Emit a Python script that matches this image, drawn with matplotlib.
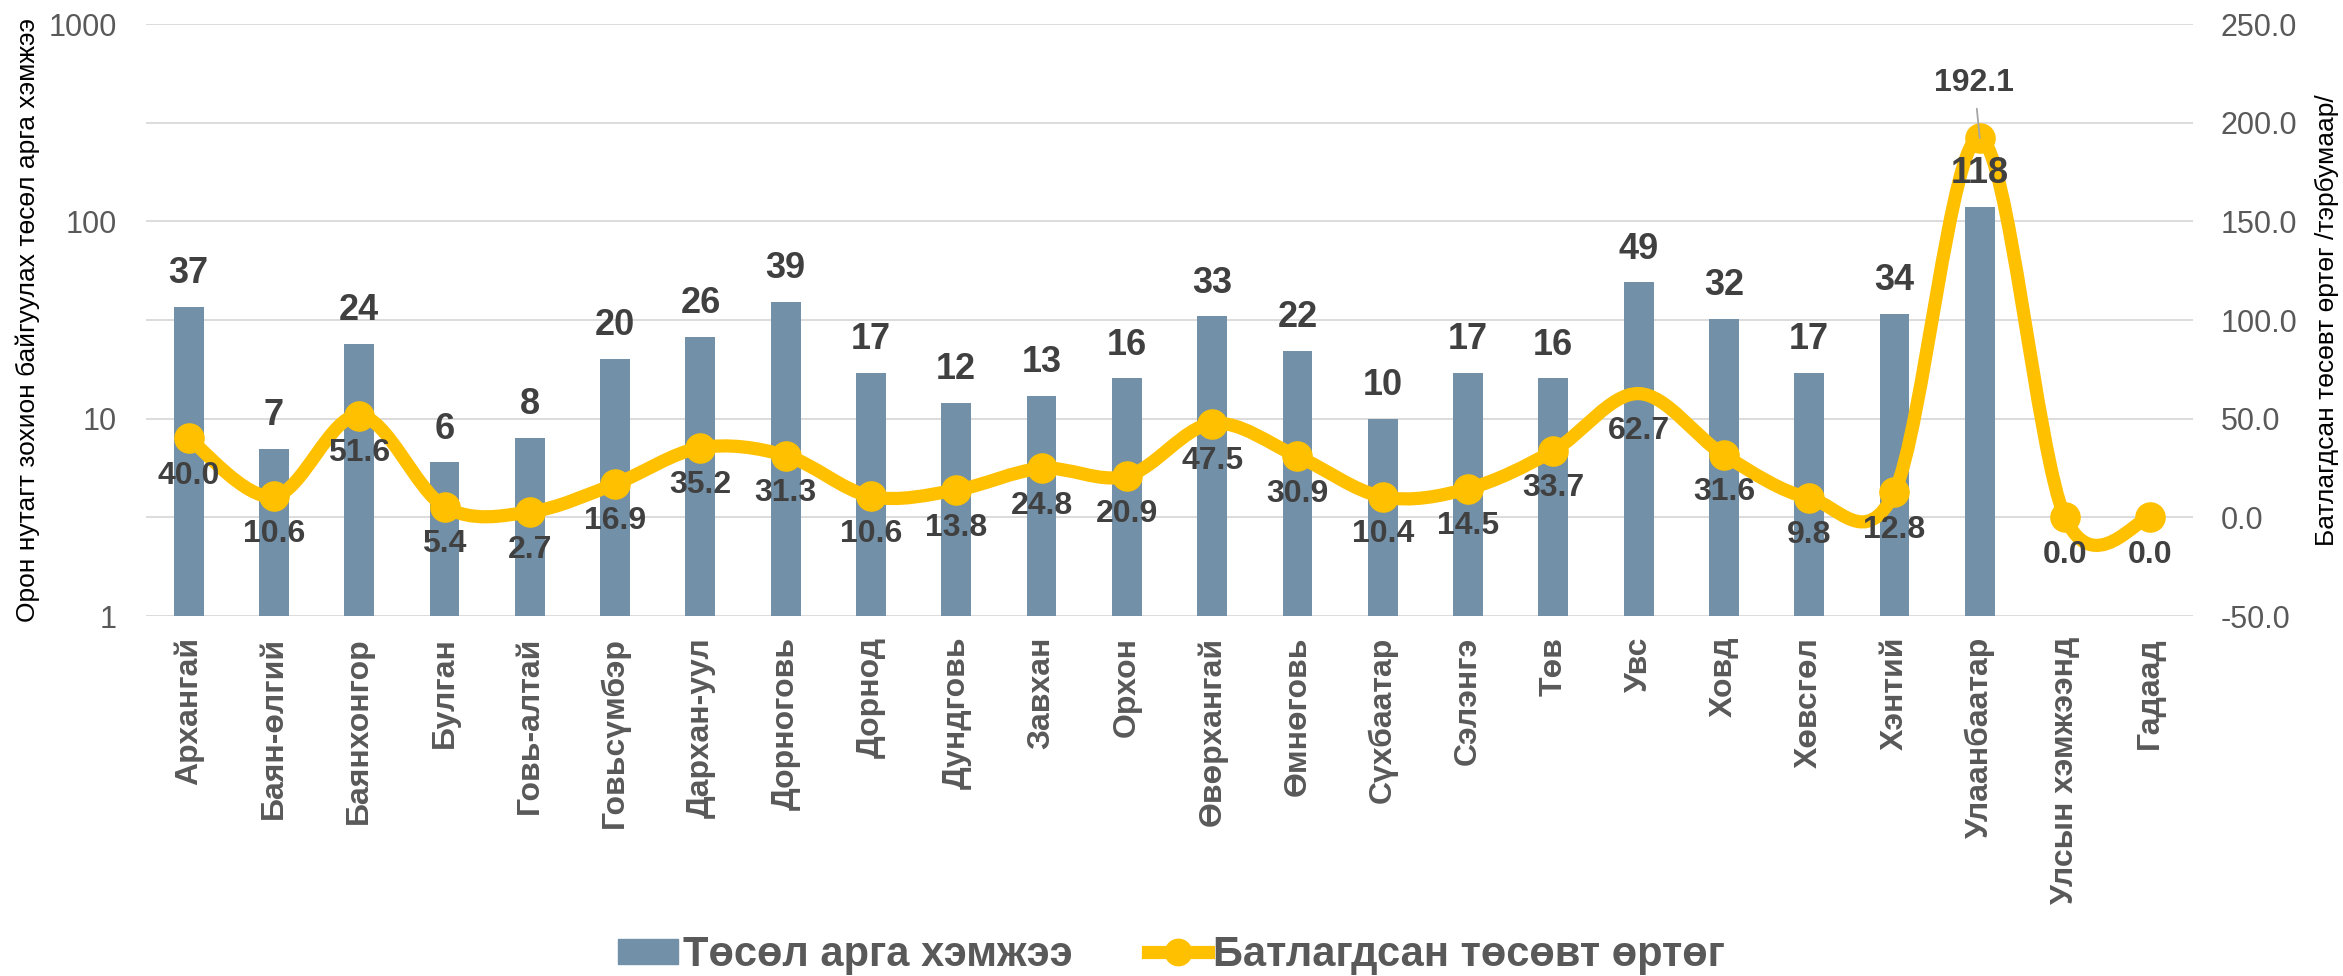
import numpy as np
import matplotlib
matplotlib.use("Agg")
import matplotlib.pyplot as plt
from matplotlib.path import Path
from matplotlib.patches import PathPatch, Patch
from matplotlib.lines import Line2D

plt.rcParams['font.family'] = ['Liberation Sans', 'DejaVu Sans']

regions = ["Архангай", "Баян-өлгий", "Баянхонгор", "Булган", "Говь-алтай",
           "Говьсүмбэр", "Дархан-уул", "Дорноговь", "Дорнод", "Дундговь",
           "Завхан", "Орхон", "Өвөрхангай", "Өмнөговь", "Сүхбаатар", "Сэлэнгэ",
           "Төв", "Увс", "Ховд", "Хөвсгөл", "Хэнтий", "Улаанбаатар",
           "Улсын хэмжээнд", "Гадаад"]
projects = [37, 7, 24, 6, 8, 20, 26, 39, 17, 12, 13, 16, 33, 22, 10, 17, 16,
            49, 32, 17, 34, 118, np.nan, np.nan]
budget = [40.0, 10.6, 51.6, 5.4, 2.7, 16.9, 35.2, 31.3, 10.6, 13.8, 24.8, 20.9,
          47.5, 30.9, 10.4, 14.5, 33.7, 62.7, 31.6, 9.8, 12.8, 192.1, 0.0, 0.0]

bar_color = '#7290A8'
line_color = '#FFC000'
label_color = '#404040'
tick_color = '#595959'

W, H = 2343, 976
fig = plt.figure(figsize=(W / 100, H / 100), dpi=100)
ax = fig.add_axes([146 / W, 1 - 616 / H, (2193 - 146) / W, (616 - 24) / H])
ax2 = ax.twinx()

x = np.arange(len(regions))

# bars (log scale, left)
ax.bar(x, projects, width=0.35, color=bar_color, log=True, zorder=2)
ax.set_yscale('log')
ax.set_ylim(1, 1000)
ax.set_xlim(-0.5, len(regions) - 0.5)
ax.set_yticks([1, 10, 100, 1000])
ax.set_yticklabels(['1', '10', '100', '1000'])
ax.set_yticks([10 ** 0.5, 10 ** 1.5, 10 ** 2.5], minor=True)
ax.yaxis.set_minor_formatter(plt.NullFormatter())
ax.grid(axis='y', which='both', color='#D9D9D9', lw=1.3)
ax.set_axisbelow(True)
ax.tick_params(axis='y', which='both', length=0, labelsize=22,
               labelcolor=tick_color, pad=21)
ax.set_xticks(x)
ax.set_xticklabels(regions, rotation=90, fontsize=23, fontweight='bold',
                   color=tick_color)
ax.tick_params(axis='x', length=0, pad=15)
for s in ax.spines.values():
    s.set_visible(False)
ax.set_ylabel("Орон нутагт зохион байгуулах төсөл арга хэмжээ", fontsize=19,
              color='black')
ax.yaxis.set_label_coords(-0.052, 0.5)

# smoothed line (right axis)
ax2.set_ylim(-50, 250)
ax2.set_yticks(np.arange(-50, 251, 50))
ax2.set_yticklabels([f"{t:.1f}" for t in np.arange(-50, 251, 50)])
ax2.tick_params(axis='y', length=0, labelsize=22, labelcolor=tick_color, pad=20)
for s in ax2.spines.values():
    s.set_visible(False)
ax2.set_ylabel("Батлагдсан төсөвт өртөг /тэрбумаар/", fontsize=19,
               color='black', rotation=90)
ax2.yaxis.set_label_coords(1.0596, 0.5)

pts = np.column_stack([x, budget]).astype(float)
n = len(pts)
verts = [pts[0]]
codes = [Path.MOVETO]
for i in range(n - 1):
    p0 = pts[max(i - 1, 0)]
    p1 = pts[i]
    p2 = pts[i + 1]
    p3 = pts[min(i + 2, n - 1)]
    c1 = p1 + (p2 - p0) / 6
    c2 = p2 - (p3 - p1) / 6
    verts += [c1, c2, p2]
    codes += [Path.CURVE4] * 3
ax2.add_patch(PathPatch(Path(verts, codes), fill=False, edgecolor=line_color,
                        lw=9.5, capstyle='round', joinstyle='round', zorder=3))
marked = [i for i in range(n) if regions[i] != "Увс"]
ax2.plot(x[marked], np.array(budget)[marked], 'o', ms=21, color=line_color,
         zorder=4)

# bar labels drawn on the top axes so they sit over the line
for xi, v in zip(x, projects):
    if np.isnan(v):
        continue
    ax2.annotate(f"{v:.0f}", (xi, v), xycoords=ax.transData, xytext=(0, 24),
                 textcoords='offset points', ha='center', va='center',
                 fontsize=26, fontweight='bold', color=label_color, zorder=6)

for xi, v in zip(x, budget):
    if v > 150:
        ax2.annotate(f"{v:.1f}", (xi, v), xytext=(-4, 40),
                     textcoords='offset points', ha='center', va='center',
                     fontsize=23, fontweight='bold', color=label_color,
                     arrowprops=dict(arrowstyle='-', color='#A6A6A6', lw=1.3,
                                     shrinkA=6, shrinkB=0), zorder=6)
    else:
        ax2.annotate(f"{v:.1f}", (xi, v), xytext=(0, -27),
                     textcoords='offset points', ha='center', va='center',
                     fontsize=23, fontweight='bold', color=label_color,
                     zorder=6)

handles = [Patch(color=bar_color),
           Line2D([], [], color=line_color, lw=9.5, marker='o', ms=19)]
fig.legend(handles, ["Төсөл арга хэмжээ", "Батлагдсан төсөвт өртөг"],
           loc='center', bbox_to_anchor=(0.5, 1 - 955 / H), ncol=2,
           frameon=False, handlelength=1.45, handleheight=0.53,
           handletextpad=0.12, columnspacing=1.8,
           prop={'weight': 'bold', 'size': 30},
           labelcolor=tick_color)

fig.savefig("out.png", dpi=100)
